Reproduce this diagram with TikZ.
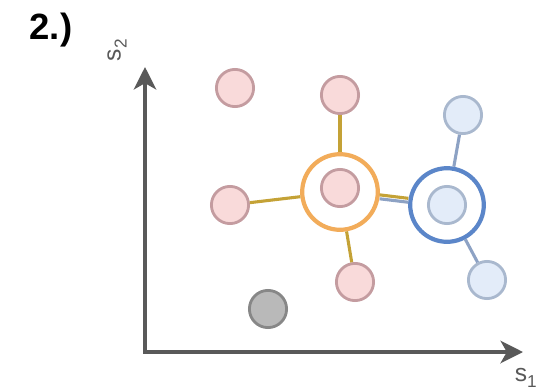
\documentclass[tikz,border=0pt]{standalone}
\usepackage{fontspec}
\setmainfont{Liberation Sans}
\usetikzlibrary{arrows.meta}
\definecolor{pinkfill}{HTML}{F9DADA}
\definecolor{pinkline}{HTML}{C49CA0}
\definecolor{bluefill}{HTML}{E3ECF9}
\definecolor{blueline}{HTML}{A9B8CE}
\definecolor{grayfill}{HTML}{B9B9B9}
\definecolor{grayline}{HTML}{878787}
\definecolor{ringorange}{HTML}{F2AC5A}
\definecolor{ringblue}{HTML}{5B86C9}
\definecolor{linkyellow}{HTML}{C4A236}
\definecolor{linkblue}{HTML}{8DA2C4}
\definecolor{axisgray}{HTML}{595959}

\begin{document}
\begin{tikzpicture}[x=0.5mm,y=-0.5mm,>={Stealth[length=32pt,width=32pt,inset=9pt]},
 dot/.style={circle,line width=4pt,minimum size=18.6mm,inner sep=0pt},
 pinkdot/.style={dot,draw=pinkline,fill=pinkfill},
 bluedot/.style={dot,draw=blueline,fill=bluefill},
 graydot/.style={dot,draw=grayline,fill=grayfill},
 ring/.style={circle,line width=6pt,fill=white,inner sep=0pt},
 orangering/.style={ring,draw=ringorange,minimum size=37.8mm},
 bluering/.style={ring,draw=ringblue,minimum size=36.8mm},
 yellowlink/.style={line width=4.4pt,linkyellow},
 bluelink/.style={line width=4.4pt,linkblue}]
 \useasboundingbox (0,0) rectangle (549,391);
 % axes
 \coordinate (o) at (145,352);
 \coordinate (ytip) at (145,67);
 \coordinate (xtip) at (523,352);
 \draw[->,line width=5pt,axisgray] (o) -- (ytip);
 \draw[->,line width=5pt,axisgray] ([xshift=-2.5pt]o) -- (xtip);
 \node[font=\fontsize{52}{52}\selectfont\bfseries] (title) at (51,30) {2.)};
 \node[font=\fontsize{35}{35}\selectfont,text=axisgray,rotate=90] (ytxt) at (117,50) {s\textsubscript{2}};
 \node[font=\fontsize{35}{35}\selectfont,text=axisgray] (xtxt) at (526,378) {s\textsubscript{1}};
 % points
 \node[pinkdot] (p1) at (235,88) {};
 \node[pinkdot] (p2) at (340,95) {};
 \node[pinkdot] (p3) at (230,205) {};
 \node[pinkdot] (p4) at (355,282) {};
 \node[graydot] (g1) at (268,309) {};
 \node[bluedot] (b1) at (463,115) {};
 \node[bluedot] (b2) at (487,280) {};
 % clusters
 \node[orangering] (oring) at (340,192) {};
 \node[bluering] (bring) at (447,205) {};
 \node[pinkdot] (pc) at (340,188) {};
 \node[bluedot] (bc) at (447,205) {};
 \foreach \x in {p2,p3,p4}
   \draw[yellowlink] (oring) -- (\x);
 \foreach \x in {b1,b2}
   \draw[bluelink] (bring) -- (\x);
 \draw[yellowlink,transform canvas={yshift=2.8pt}] (oring) -- (bring);
 \draw[bluelink,transform canvas={yshift=-2.8pt}] (oring) -- (bring);
\end{tikzpicture}
\end{document}
